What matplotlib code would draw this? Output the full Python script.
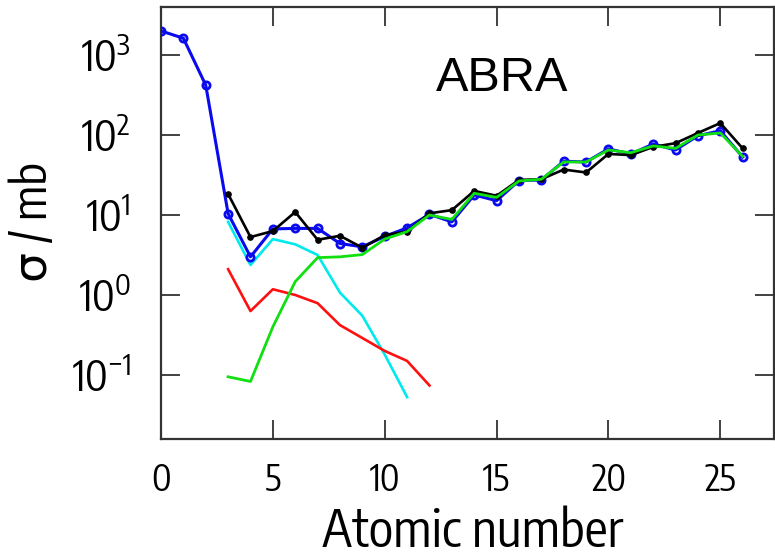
import matplotlib
matplotlib.use("Agg")
import matplotlib.pyplot as plt

z_blue = list(range(0, 27))
blue = [2000, 1620, 420, 10.4, 3.0, 6.7, 6.8, 6.8, 4.4, 4.0, 5.4, 6.9, 10.2, 8.2, 17.8,
        15.1, 26.9, 27.4, 47, 46, 67, 58, 77, 65, 98, 113, 53]
z_black = list(range(3, 27))
black = [18.3, 5.3, 6.3, 10.9, 4.9, 5.5, 3.9, 5.6, 6.2, 10.5, 11.5, 20, 17.4, 27.4, 28,
         37, 34, 58, 56, 71, 79, 106, 141, 68]
z_green = list(range(3, 27))
green = [0.095, 0.083, 0.40, 1.47, 2.93, 3.0, 3.2, 5.0, 6.2, 10, 8.8, 18.7, 16.6, 26.6,
         28, 46, 46, 65, 60, 73, 68, 100, 106, 54]
z_cyan = list(range(3, 12))
cyan = [8.2, 2.37, 5.0, 4.3, 3.16, 1.07, 0.55, 0.18, 0.053]
z_red = list(range(3, 13))
red = [2.1, 0.63, 1.18, 1.0, 0.79, 0.42, 0.29, 0.20, 0.15, 0.074]

xticks = [0, 5, 10, 15, 20, 25]
yticks = [1e-1, 1e0, 1e1, 1e2, 1e3]
ytick_labels = [r"$10^{-1}$", r"$10^{0}$", r"$10^{1}$", r"$10^{2}$", r"$10^{3}$"]

FONT = ["Encode Sans Condensed", "DejaVu Sans"]
plt.rcParams["mathtext.fontset"] = "custom"
plt.rcParams["mathtext.rm"] = "Encode Sans Condensed"
plt.rcParams["mathtext.it"] = "Encode Sans Condensed"
plt.rcParams["mathtext.default"] = "rm"

fig = plt.figure(figsize=(7.75, 5.59), dpi=100)
ax = fig.add_axes([161/775, 1-439/559, (774-161)/775, (439-7)/559])

ax.plot(z_cyan, cyan, color="#00eaee", lw=1.9, zorder=2)
ax.plot(z_red, red, color="#ff1010", lw=1.9, zorder=2)
ax.plot(z_blue, blue, color="#0a0aee", lw=2.2, marker="o", ms=5.2, mfc="none", mew=2.0,
        mec="#0a0aee", zorder=3)
ax.plot(z_black, black, color="black", lw=1.9, marker="o", ms=3.8, zorder=4)
ax.plot(z_green, green, color="#10e010", lw=2.0, zorder=5)

ax.set_yscale("log")
ax.set_xlim(0, 27.4)
ax.set_ylim(10**-1.8, 10**3.6)
ax.set_xticks(xticks)
ax.set_xticklabels([str(t) for t in xticks])
ax.set_yticks(yticks)
ax.set_yticklabels(ytick_labels)
ax.yaxis.set_minor_locator(matplotlib.ticker.NullLocator())
ax.tick_params(which="both", direction="in", length=14, width=1.3, color="#333333",
               top=True, right=True)
ax.tick_params(axis="x", labelsize=26, pad=16)
ax.tick_params(axis="y", labelsize=30, pad=22)
for lab in ax.get_xticklabels() + ax.get_yticklabels():
    lab.set_fontfamily(FONT)
for s in ax.spines.values():
    s.set_linewidth(1.6)
    s.set_color("#333333")

xl = ax.set_xlabel("Atomic number", fontsize=37, fontfamily=FONT)
xl.set_va("bottom")
ax.xaxis.set_label_coords(0.509, -0.275)
yl = ax.set_ylabel("σ / mb", fontsize=34, fontfamily=FONT)
yl.set_va("center")
yl.set_ha("center")
ax.yaxis.set_label_coords(-0.209, 0.502)
ax.text(0.556, 0.806, "ABRA", transform=ax.transAxes, fontsize=35,
        fontfamily=["Liberation Sans", "DejaVu Sans"], ha="center", va="baseline")

fig.savefig("out.png", dpi=100)
